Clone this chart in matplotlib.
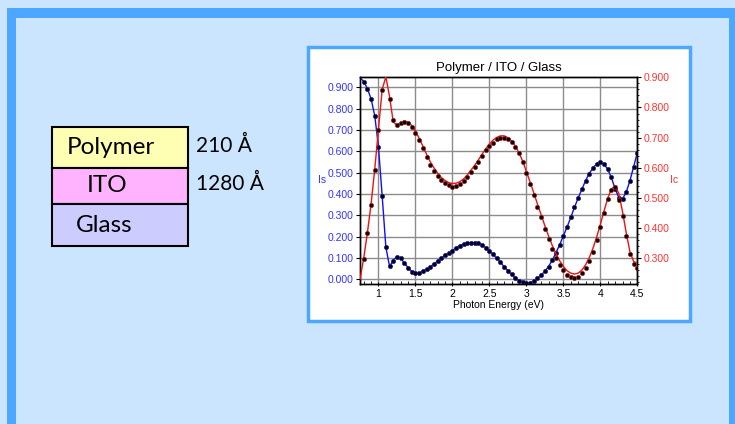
import numpy as np
import matplotlib
matplotlib.use("Agg")
import matplotlib.pyplot as plt
from matplotlib.patches import Rectangle
from matplotlib.ticker import MultipleLocator, FormatStrFormatter

# photon energy grids (eV): measured points and model curve
e_meas = np.round(np.arange(0.80, 4.501, 0.05), 2)
e_fit = np.round(np.arange(0.75, 4.501, 0.05), 2)

is_meas = [0.926, 0.892, 0.845, 0.766, 0.619, 0.390, 0.150, 0.062,
           0.087, 0.106, 0.098, 0.075, 0.055, 0.036, 0.028, 0.030,
           0.038, 0.047, 0.059, 0.072, 0.086, 0.100, 0.112, 0.122,
           0.133, 0.148, 0.158, 0.165, 0.170, 0.172, 0.172, 0.169,
           0.161, 0.148, 0.134, 0.117, 0.098, 0.080, 0.059, 0.040,
           0.023, 0.006, -0.006, -0.014, -0.017, -0.016, -0.009, 0.004,
           0.020, 0.038, 0.060, 0.089, 0.125, 0.162, 0.203, 0.245,
           0.290, 0.338, 0.381, 0.422, 0.462, 0.496, 0.522, 0.542,
           0.549, 0.539, 0.516, 0.478, 0.422, 0.381, 0.376, 0.408,
           0.462, 0.527, 0.594]

ic_meas = [0.299, 0.383, 0.477, 0.593, 0.725, 0.858, np.nan, 0.827,
           0.758, 0.742, 0.747, 0.753, 0.749, 0.734, 0.716, 0.692,
           0.665, 0.636, 0.610, 0.590, 0.574, 0.560, 0.550, 0.543,
           0.537, 0.540, 0.546, 0.556, 0.570, 0.587, 0.602, 0.620,
           0.639, 0.659, 0.672, 0.683, 0.694, 0.699, 0.699, 0.694,
           0.684, 0.670, 0.648, 0.618, 0.582, 0.546, 0.510, 0.471,
           0.436, 0.396, 0.363, 0.330, 0.300, 0.278, 0.261, 0.246,
           0.237, 0.234, 0.237, 0.250, 0.267, 0.292, 0.322, 0.361,
           0.405, 0.451, 0.496, 0.526, 0.535, 0.495, 0.440, 0.374,
           0.313, 0.280, 0.267]

is_fit = [0.945, 0.928, 0.894, 0.846, 0.766, 0.620, 0.390, 0.150,
          0.060, 0.090, 0.106, 0.098, 0.076, 0.055, 0.037, 0.029,
          0.030, 0.037, 0.047, 0.059, 0.072, 0.086, 0.100, 0.112,
          0.123, 0.135, 0.148, 0.158, 0.165, 0.170, 0.172, 0.172,
          0.169, 0.161, 0.149, 0.134, 0.117, 0.098, 0.079, 0.059,
          0.040, 0.022, 0.006, -0.006, -0.014, -0.017, -0.016, -0.009,
          0.004, 0.020, 0.038, 0.060, 0.089, 0.125, 0.162, 0.203,
          0.245, 0.290, 0.337, 0.381, 0.422, 0.462, 0.496, 0.522,
          0.542, 0.550, 0.540, 0.516, 0.476, 0.424, 0.384, 0.377,
          0.408, 0.462, 0.527, 0.594]

ic_fit = [0.230, 0.300, 0.385, 0.480, 0.597, 0.728, 0.860, 0.902,
          0.835, 0.752, 0.742, 0.748, 0.755, 0.752, 0.740, 0.722,
          0.698, 0.672, 0.645, 0.620, 0.600, 0.582, 0.568, 0.558,
          0.551, 0.548, 0.549, 0.554, 0.563, 0.576, 0.592, 0.608,
          0.626, 0.645, 0.663, 0.679, 0.692, 0.701, 0.706, 0.706,
          0.700, 0.689, 0.672, 0.650, 0.622, 0.588, 0.553, 0.517,
          0.480, 0.444, 0.408, 0.374, 0.343, 0.315, 0.292, 0.273,
          0.259, 0.251, 0.248, 0.251, 0.261, 0.278, 0.302, 0.333,
          0.370, 0.412, 0.457, 0.499, 0.530, 0.540, 0.515, 0.455,
          0.385, 0.322, 0.290, 0.283]

layers = ["Polymer", "ITO", "Glass"]
layer_colors = ["#ffffb3", "#ffb3ff", "#ccccff"]
thicknesses = ["210 Å", "1280 Å"]

W, H = 735, 424
BG = "#cce5ff"
FRAME = "#4da6ff"
BLUE = "#3333ff"
RED = "#ff3333"

plt.rcParams["font.family"] = ["Liberation Sans", "DejaVu Sans"]

fig = plt.figure(figsize=(W / 100, H / 100), dpi=100)
fig.patch.set_facecolor(BG)


def box(x, y, w, h, z=-5, **kw):
    # rectangle given in pixels from the top-left corner
    r = Rectangle((x / W, 1 - (y + h) / H), w / W, h / H,
                  transform=fig.transFigure, zorder=z, **kw)
    fig.add_artist(r)
    return r


# slide frame
box(7, 8, 722, 10, facecolor=FRAME, edgecolor="none")
box(7, 8, 9, 420, facecolor=FRAME, edgecolor="none")
box(729, 8, 10, 420, facecolor=FRAME, edgecolor="none")

# white panel behind the chart
box(307.5, 46.5, 382.5, 274.5, facecolor="white", edgecolor=FRAME, linewidth=2.5)

# layer stack
row_tops = [127, 168, 204]
row_h = [41, 36, 42]
text_x = [67, 87, 76]
for name, col, top, hh, tx in zip(layers, layer_colors, row_tops, row_h, text_x):
    box(52, top, 136, hh, z=-4, facecolor=col, edgecolor="black", linewidth=1.5)
    fig.text(tx / W, 1 - (top + hh / 2) / H, name, fontsize=17.5,
             family=["Lato", "DejaVu Sans"], va="center", ha="left")
for label, top, hh in zip(thicknesses, row_tops, row_h):
    fig.text(196 / W, 1 - (top + hh / 2 - 2) / H, label, fontsize=15,
             family=["Lato", "DejaVu Sans"], va="center", ha="left")

# chart
ax = fig.add_axes([360 / W, 1 - 284 / H, 277.3 / W, 207.3 / H])
ax2 = ax.twinx()
ax.set_facecolor("white")

ax.plot(e_fit, is_fit, color="#1010ee", lw=1.0, zorder=3)
ax.plot(e_meas, is_meas, "o", ms=3, mfc="black", mec="#1a1aaa", mew=0.5, zorder=4)
ax2.plot(e_fit, ic_fit, color="#ee1010", lw=1.0, zorder=3)
ax2.plot(e_meas, ic_meas, "o", ms=3, mfc="black", mec="#aa1a1a", mew=0.5, zorder=4)

ax.set_xlim(0.75, 4.5)
ax.set_ylim(-0.022, 0.95)
ax2.set_ylim(0.215, 0.902)

ax.xaxis.set_major_locator(MultipleLocator(0.5))
ax.xaxis.set_minor_locator(MultipleLocator(0.1))
ax.xaxis.set_major_formatter(lambda v, p: f"{v:g}")
ax.yaxis.set_major_locator(MultipleLocator(0.1))
ax.yaxis.set_major_formatter(FormatStrFormatter("%.3f"))
ax2.yaxis.set_major_locator(MultipleLocator(0.1))
ax2.yaxis.set_minor_locator(MultipleLocator(0.02))
ax2.yaxis.set_major_formatter(FormatStrFormatter("%.3f"))

ax.grid(True, which="major", color="#8c8c8c", lw=1.0)
ax.set_axisbelow(True)

ax.tick_params(axis="x", which="major", labelsize=7.5, length=3, direction="inout", pad=2)
ax.tick_params(axis="x", which="minor", length=2, direction="in")
ax.tick_params(axis="y", labelsize=7.5, labelcolor=BLUE, length=3, pad=1.5)
ax2.tick_params(axis="y", which="major", labelsize=7.5, labelcolor=RED, length=3, pad=1.5)
ax2.tick_params(axis="y", which="minor", length=1.5)

for a in (ax, ax2):
    for s in a.spines.values():
        s.set_linewidth(1.0)
        s.set_color("black")

ax.set_xlabel("Photon Energy (eV)", fontsize=7.5, labelpad=1)
ax.set_ylabel("Is", fontsize=7.5, color=BLUE, rotation=0, labelpad=4, va="center")
ax2.set_ylabel("Ic", fontsize=7.5, color=RED, rotation=0, labelpad=3, va="center")
ax.set_title("Polymer / ITO / Glass", fontsize=9.5, pad=4)

fig.savefig("out.png", dpi=100, facecolor=BG)
